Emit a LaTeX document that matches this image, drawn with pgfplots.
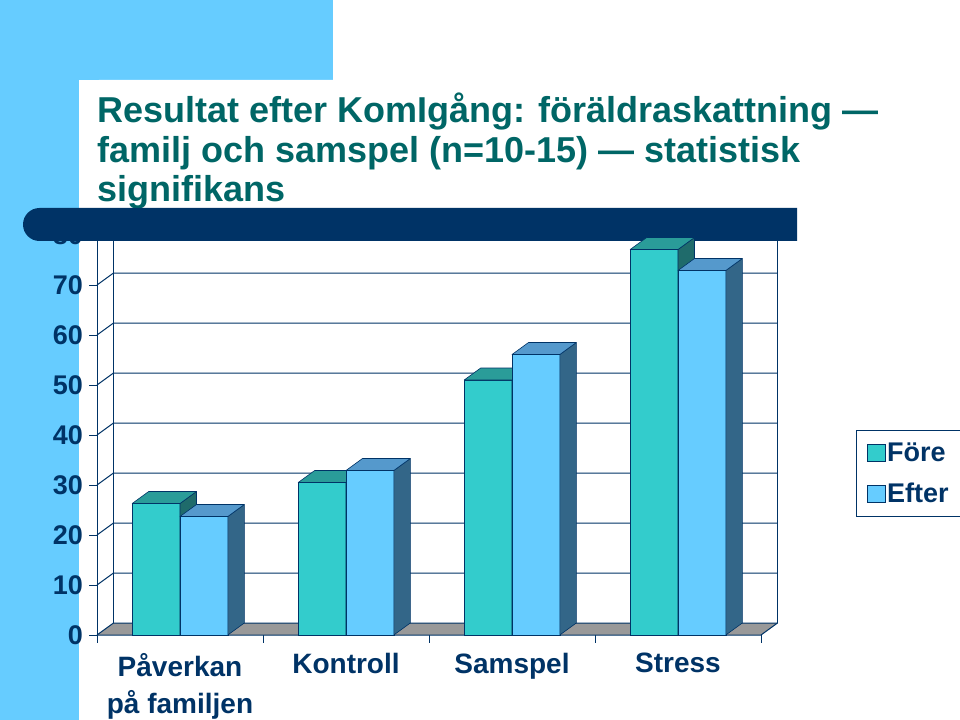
\documentclass[border=0pt]{standalone}
\usepackage{fontspec}
\setmainfont{Liberation Sans}
\usepackage{pgfplots}
\pgfplotsset{compat=1.18}
\definecolor{navy}{HTML}{003366}
\definecolor{titleteal}{HTML}{006666}
\definecolor{lblue}{HTML}{66CCFF}
\definecolor{forefront}{HTML}{33CCCC}
\definecolor{foretop}{HTML}{2A9C99}
\definecolor{foreside}{HTML}{1F6B6B}
\definecolor{efterfront}{HTML}{66CCFF}
\definecolor{eftertop}{HTML}{5599CC}
\definecolor{efterside}{HTML}{336688}
\definecolor{floorgray}{HTML}{999999}
\newcommand\titlefont{\fontsize{36bp}{40bp}\selectfont\bfseries}
\newcommand\tickfont{\fontsize{27bp}{30bp}\selectfont\bfseries}
\newcommand\catfont{\fontsize{28bp}{37bp}\selectfont\bfseries}
\newcommand\legfont{\fontsize{27bp}{30bp}\selectfont\bfseries}
\pgfdeclareplotmark{fore3d}{%
  \pgfmathsetmacro\hh{\barval*5}%
  \filldraw[fill=forefront,draw=navy,line width=0.6bp] (-23.9bp,0bp) rectangle (23.9bp,-\hh bp);
  \filldraw[fill=foreside,draw=navy,line width=0.6bp,line join=round] (23.9bp,0bp) -- (40.4bp,12bp) -- (40.4bp,12bp-\hh bp) -- (23.9bp,-\hh bp) -- cycle;
  \filldraw[fill=foretop,draw=navy,line width=0.6bp,line join=round] (-23.9bp,0bp) -- (23.9bp,0bp) -- (40.4bp,12bp) -- (-7.4bp,12bp) -- cycle;
}
\pgfdeclareplotmark{efter3d}{%
  \pgfmathsetmacro\hh{\barval*5}%
  \filldraw[fill=efterfront,draw=navy,line width=0.6bp] (-23.9bp,0bp) rectangle (23.9bp,-\hh bp);
  \filldraw[fill=efterside,draw=navy,line width=0.6bp,line join=round] (23.9bp,0bp) -- (40.4bp,12bp) -- (40.4bp,12bp-\hh bp) -- (23.9bp,-\hh bp) -- cycle;
  \filldraw[fill=eftertop,draw=navy,line width=0.6bp,line join=round] (-23.9bp,0bp) -- (23.9bp,0bp) -- (40.4bp,12bp) -- (-7.4bp,12bp) -- cycle;
}
\begin{document}
\begin{tikzpicture}
\useasboundingbox (0bp,0bp) rectangle (960bp,720bp);
\clip (0bp,0bp) rectangle (960bp,720bp);
\begin{scope}[x=1bp,y=1bp]
\fill[white] (0,0) rectangle (960,720);
\fill[lblue] (0,640) rectangle (333,720);
\fill[lblue] (0,0) rectangle (79,720);
\fill[white] (79,0) -- (79,620) arc[start angle=180,end angle=90,radius=20] -- (960,640) -- (960,0) -- cycle;
\node[anchor=base west, text=titleteal, font=\titlefont, inner sep=0pt] at (97,597) {Resultat efter KomIgång: föräldraskattning —};
\node[anchor=base west, text=titleteal, font=\titlefont, inner sep=0pt] at (97,557) {familj och samspel (n=10-15) — statistisk};
\node[anchor=base west, text=titleteal, font=\titlefont, inner sep=0pt] at (97,518) {signifikans};
\fill[navy] (797,479) -- (39.5,479) arc[start angle=270,end angle=90,radius=16.5] -- (797,512) -- cycle;
\end{scope}
\begin{pgfinterruptboundingbox}
\begin{axis}[
  at={(97bp,85bp)}, anchor=south west,
  width=664bp, height=400bp, scale only axis,
  xmin=-0.5, xmax=3.5, ymin=0, ymax=80,
  clip=false,
  axis line style={draw=none},
  tick pos=left, tick align=outside,
  major tick length=7.5bp,
  tick style={draw=navy, line width=1bp},
  ytick={0,10,20,30,40,50,60,70,80},
  yticklabel style={font=\tickfont, text=navy, xshift=-3bp},
  xtick={-0.5,0.5,1.5,2.5,3.5},
  xticklabels={{},{},{},{},{}},
  extra x ticks={0,1,2,3},
  extra x tick labels={{Påverkan\\på familjen},Kontroll,Samspel,Stress},
  extra x tick style={tick style={draw=none}, tick label style={font=\catfont, text=navy, align=center, yshift=-7bp}},
  /pgf/number format/assume math mode=true,
  legend style={at={(1.1431,0.5125)}, anchor=north west, draw=navy, line width=1bp, fill=white,
    font=\legfont, text=navy, inner xsep=10bp, inner ysep=10bp, row sep=16.5bp,
    /tikz/every even column/.append style={column sep=8bp}},
  legend cell align=left,
  legend image code/.code={\draw[#1, draw=navy, line width=0.6bp] (0bp,-8.5bp) rectangle (18bp,8.5bp);},
]
\fill[floorgray] (axis cs:-0.5,0) -- (axis cs:3.5,0) -- ([shift={(16.5bp,12bp)}]axis cs:3.5,0) -- ([shift={(16.5bp,12bp)}]axis cs:-0.5,0) -- cycle;
\pgfplotsinvokeforeach{0,10,20,30,40,50,60,70,80}{
  \draw[navy, line width=1bp] (axis cs:-0.5,#1) -- ([shift={(16.5bp,12bp)}]axis cs:-0.5,#1) -- ([shift={(16.5bp,12bp)}]axis cs:3.5,#1);
}
\draw[navy, line width=1bp] ([shift={(16.5bp,12bp)}]axis cs:-0.5,0) -- ([shift={(16.5bp,12bp)}]axis cs:-0.5,80);
\draw[navy, line width=1bp] ([shift={(16.5bp,12bp)}]axis cs:3.5,0) -- ([shift={(16.5bp,12bp)}]axis cs:3.5,80);
\draw[navy, line width=1bp] (axis cs:-0.5,0) -- (axis cs:-0.5,80);
\draw[navy, line width=1bp] (axis cs:-0.5,0) -- (axis cs:3.5,0) -- ([shift={(16.5bp,12bp)}]axis cs:3.5,0);
\addplot[ybar, bar width=47.8bp, bar shift=0pt, fill=forefront, draw=navy, line width=0.6bp,
  mark=fore3d, visualization depends on={rawy \as \barval}]
  coordinates {(-0.144,26.3) (0.856,30.5) (1.856,51.0) (2.856,77.1)};
\addlegendentry{Före}
\addplot[ybar, bar width=47.8bp, bar shift=0pt, fill=efterfront, draw=navy, line width=0.6bp,
  mark=efter3d, visualization depends on={rawy \as \barval}]
  coordinates {(0.144,23.7) (1.144,32.9) (2.144,56.1) (3.144,72.9)};
\addlegendentry{Efter}
\end{axis}
\end{pgfinterruptboundingbox}
\end{tikzpicture}
\end{document}
